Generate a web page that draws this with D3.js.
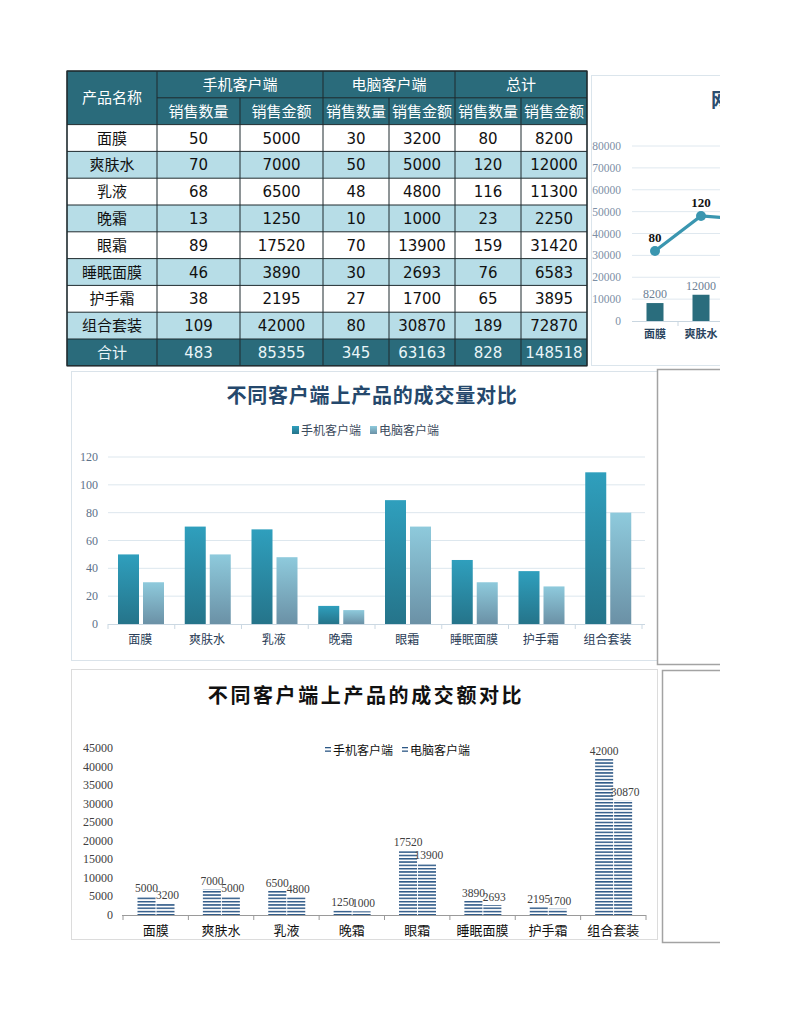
<!DOCTYPE html>
<html><head><meta charset="utf-8">
<script src="https://cdn.jsdelivr.net/npm/d3@7"></script>
<style>
html,body{margin:0;padding:0;background:#fff;}
svg{display:block;}
</style></head>
<body>
<svg id="c" width="794" height="1025"></svg>
<script>
// ---------- DATA ----------
const categories = ['面膜','爽肤水','乳液','晚霜','眼霜','睡眠面膜','护手霜','组合套装'];
const mobileQty = [50,70,68,13,89,46,38,109];
const mobileAmt = [5000,7000,6500,1250,17520,3890,2195,42000];
const pcQty = [30,50,48,10,70,30,27,80];
const pcAmt = [3200,5000,4800,1000,13900,2693,1700,30870];
const totalQty = [80,120,116,23,159,76,65,189];
const totalAmt = [8200,12000,11300,2250,31420,6583,3895,72870];
const sumRow = [483,85355,345,63163,828,148518];
const groupHeaders = ['手机客户端','电脑客户端','总计'];
const subHeaders = ['销售数量','销售金额'];
const qtyTicks = [0,20,40,60,80,100,120];
const amtTicks = [0,5000,10000,15000,20000,25000,30000,35000,40000,45000];
const totTicks = [0,10000,20000,30000,40000,50000,60000,70000,80000];
const seriesNames = ['手机客户端','电脑客户端'];

const svg = d3.select('#c');
const CJK = "'Noto Sans CJK SC','Noto Sans',sans-serif";
const NUM = "'DejaVu Sans','Noto Sans CJK SC',sans-serif";
const SERIF = "'Liberation Serif','DejaVu Serif',serif";
const CLIPX = 720;

const defs = svg.append('defs');
function grad(id, top, bot){
  const g = defs.append('linearGradient').attr('id',id).attr('x1',0).attr('y1',0).attr('x2',0).attr('y2',1);
  g.append('stop').attr('offset','0%').attr('stop-color',top);
  g.append('stop').attr('offset','100%').attr('stop-color',bot);
}
grad('gM','#2f9fbd','#25748a');
grad('gP','#8ecadc','#6b91a6');
const pat = defs.append('pattern').attr('id','hatch').attr('patternUnits','userSpaceOnUse')
  .attr('width',6).attr('height',3.3);
pat.append('rect').attr('x',0).attr('y',0).attr('width',6).attr('height',1.5).attr('fill','#2d5886');
defs.append('clipPath').attr('id','clipR').append('rect').attr('x',0).attr('y',0).attr('width',CLIPX).attr('height',1025);

// ---------- TABLE ----------
const colW = [90,83,83,66,66,66,66];
const colX = [67]; colW.forEach((w,i)=>colX.push(colX[i]+w));
const tTop = 71, rowH = 26.8;
const dark = '#2a6b7b', light = '#b7dde7';
const tbl = svg.append('g');
const rows = categories.map((c,i)=>[c, mobileQty[i], mobileAmt[i], pcQty[i], pcAmt[i], totalQty[i], totalAmt[i]]);
rows.push(['合计', ...sumRow]);
tbl.append('rect').attr('x',colX[0]).attr('y',tTop).attr('width',colX[7]-colX[0]).attr('height',rowH*2).attr('fill',dark);
rows.forEach((r,i)=>{
  const y = tTop + rowH*(i+2);
  const isSum = i===rows.length-1;
  tbl.append('rect').attr('x',colX[0]).attr('y',y).attr('width',colX[7]-colX[0]).attr('height',rowH)
    .attr('fill', isSum ? dark : (i%2===1 ? light : '#ffffff'));
  r.forEach((v,j)=>{
    tbl.append('text').attr('x',(colX[j]+colX[j+1])/2).attr('y',y+rowH/2+5.5)
      .attr('text-anchor','middle').attr('font-family', j===0?CJK:NUM).attr('font-size',15)
      .attr('fill', isSum ? '#e9f5f8' : '#111').text(v);
  });
});
tbl.append('text').attr('x',(colX[0]+colX[1])/2).attr('y',tTop+rowH+5.5).attr('text-anchor','middle')
  .attr('font-family',CJK).attr('font-size',15).attr('fill','#fff').text('产品名称');
groupHeaders.forEach((h,k)=>{
  tbl.append('text').attr('x',(colX[1+2*k]+colX[3+2*k])/2).attr('y',tTop+rowH/2+5.5).attr('text-anchor','middle')
    .attr('font-family',CJK).attr('font-size',15).attr('fill','#fff').text(h);
  subHeaders.forEach((s,m)=>{
    const j = 1+2*k+m;
    tbl.append('text').attr('x',(colX[j]+colX[j+1])/2).attr('y',tTop+rowH*1.5+5.5).attr('text-anchor','middle')
      .attr('font-family',CJK).attr('font-size',15).attr('fill','#fff').text(s);
  });
});
const lineC = '#1e2a2e';
const tBot = tTop + rowH*(rows.length+2);
for(let i=0;i<=rows.length+2;i++){
  const y = tTop + rowH*i;
  if(i===1){ tbl.append('line').attr('x1',colX[1]).attr('x2',colX[7]).attr('y1',y).attr('y2',y).attr('stroke',lineC); }
  else tbl.append('line').attr('x1',colX[0]).attr('x2',colX[7]).attr('y1',y).attr('y2',y).attr('stroke',lineC);
}
colX.forEach((x,j)=>{
  let y1 = tTop;
  if(j===2||j===4||j===6) y1 = tTop+rowH;
  tbl.append('line').attr('x1',x).attr('x2',x).attr('y1',y1).attr('y2',tBot).attr('stroke',lineC);
});
tbl.append('rect').attr('x',colX[0]).attr('y',tTop).attr('width',colX[7]-colX[0]).attr('height',tBot-tTop)
  .attr('fill','none').attr('stroke',lineC).attr('stroke-width',1.2);

// ---------- TOP RIGHT COMBO (clipped at the page's visible edge) ----------
const tr = svg.append('g').attr('clip-path','url(#clipR)');
tr.append('rect').attr('x',591.5).attr('y',75.5).attr('width',300).attr('height',290).attr('fill','#fff').attr('stroke','#dbe5ec');
tr.append('text').attr('x',711).attr('y',107).attr('font-family',CJK).attr('font-weight',700).attr('font-size',19)
  .attr('fill','#2a4c6e').text('网');
const xT = d3.scaleBand().domain(categories).range([632, 632+46*8]);
const yT = d3.scaleLinear().domain([0,80000]).range([321,146]);
const yT2 = d3.scaleLinear().domain([0,200]).range([321,146]);
totTicks.forEach(t=>{
  if(t>0) tr.append('line').attr('x1',632).attr('x2',1000).attr('y1',yT(t)).attr('y2',yT(t)).attr('stroke','#dfe8ef');
  tr.append('text').attr('x',621).attr('y',yT(t)+4).attr('text-anchor','end').attr('font-family',SERIF)
    .attr('font-size',11.5).attr('fill','#7d8fa6').text(t);
});
tr.append('line').attr('x1',632).attr('x2',1000).attr('y1',321.5).attr('y2',321.5).attr('stroke','#c9d6e0');
const visible = c => xT(c)+xT.bandwidth()/2 < CLIPX;
categories.forEach((c,i)=>{
  const bx = xT(c)+xT.bandwidth()/2;
  tr.append('line').attr('x1',xT(c)+xT.bandwidth()).attr('x2',xT(c)+xT.bandwidth()).attr('y1',321).attr('y2',326).attr('stroke','#c9d6e0');
  tr.append('rect').attr('x',bx-8.5).attr('y',yT(totalAmt[i])).attr('width',17).attr('height',yT(0)-yT(totalAmt[i])).attr('fill','#2a6d7d');
  if(visible(c)){
    tr.append('text').attr('x',bx).attr('y',yT(totalAmt[i])-5).attr('text-anchor','middle').attr('font-family',SERIF)
      .attr('font-size',12).attr('fill','#6d7f95').text(totalAmt[i]);
    tr.append('text').attr('x',bx).attr('y',338).attr('text-anchor','middle').attr('font-family',CJK)
      .attr('font-size',11).attr('font-weight',700).attr('fill','#2b4560').text(c);
  }
});
const ln = d3.line().x((d,i)=>xT(categories[i])+xT.bandwidth()/2).y(d=>yT2(d));
tr.append('path').attr('d',ln(totalQty)).attr('fill','none').attr('stroke','#3a96b0').attr('stroke-width',3.2);
totalQty.forEach((v,i)=>{
  const cx = xT(categories[i])+xT.bandwidth()/2;
  tr.append('circle').attr('cx',cx).attr('cy',yT2(v)).attr('r',5).attr('fill','#3a96b0');
  if(visible(categories[i]))
    tr.append('text').attr('x',cx).attr('y',yT2(v)-9).attr('text-anchor','middle').attr('font-family',SERIF)
      .attr('font-size',13).attr('font-weight',700).attr('fill','#111').text(v);
});

// ---------- MIDDLE CHART (quantity) ----------
const m = svg.append('g');
m.append('rect').attr('x',71.5).attr('y',371.5).attr('width',586).attr('height',289).attr('fill','#fff').attr('stroke','#dae3ea');
m.append('text').attr('x',372).attr('y',403).attr('text-anchor','middle').attr('font-family',CJK).attr('font-weight',700)
  .attr('font-size',20).attr('letter-spacing',0.8).attr('fill','#25486c').text('不同客户端上产品的成交量对比');
const legM = [{n:seriesNames[0],f:'url(#gM)',x:292},{n:seriesNames[1],f:'url(#gP)',x:370}];
legM.forEach(l=>{
  m.append('rect').attr('x',l.x).attr('y',426).attr('width',7).attr('height',8).attr('fill',l.f);
  m.append('text').attr('x',l.x+9).attr('y',435).attr('font-family',CJK).attr('font-size',12).attr('fill','#3b4a5c').text(l.n);
});
const xM = d3.scaleBand().domain(categories).range([108,642]);
const xM1 = d3.scaleBand().domain([0,1]).range([10,56]).paddingInner(0.16);
const yM = d3.scaleLinear().domain([0,120]).range([624,457]);
qtyTicks.forEach(t=>{
  if(t>0) m.append('line').attr('x1',108).attr('x2',645).attr('y1',yM(t)).attr('y2',yM(t)).attr('stroke','#dde7ee');
  m.append('text').attr('x',98).attr('y',yM(t)+4).attr('text-anchor','end').attr('font-family',SERIF)
    .attr('font-size',12).attr('fill','#5d7189').text(t);
});
m.append('line').attr('x1',108).attr('x2',645).attr('y1',624.5).attr('y2',624.5).attr('stroke','#cbd8e2');
[...categories.map(c=>xM(c)), 642].forEach(x=>{
  m.append('line').attr('x1',x).attr('x2',x).attr('y1',624).attr('y2',629).attr('stroke','#cbd8e2');
});
categories.forEach((c,i)=>{
  [mobileQty[i], pcQty[i]].forEach((v,k)=>{
    m.append('rect').attr('x',xM(c)+xM1(k)).attr('y',yM(v)).attr('width',xM1.bandwidth()).attr('height',yM(0)-yM(v))
      .attr('fill', k===0?'url(#gM)':'url(#gP)');
  });
  m.append('text').attr('x',xM(c)+xM.bandwidth()/2-1).attr('y',644).attr('text-anchor','middle').attr('font-family',CJK)
    .attr('font-size',12).attr('fill','#2a3d57').text(c);
});

// ---------- BOTTOM CHART (amount) ----------
const b = svg.append('g');
b.append('rect').attr('x',71.5).attr('y',669.5).attr('width',586).attr('height',270).attr('fill','#fff').attr('stroke','#dcdcdc');
b.append('text').attr('x',366).attr('y',703).attr('text-anchor','middle').attr('font-family',CJK).attr('font-weight',700)
  .attr('font-size',20).attr('letter-spacing',2.6).attr('fill','#111').text('不同客户端上产品的成交额对比');
const legB = [{n:seriesNames[0],x:325},{n:seriesNames[1],x:402}];
legB.forEach(l=>{
  b.append('rect').attr('x',l.x).attr('y',747).attr('width',6).attr('height',1.3).attr('fill','#2d5886');
  b.append('rect').attr('x',l.x).attr('y',750.5).attr('width',6).attr('height',1.3).attr('fill','#2d5886');
  b.append('text').attr('x',l.x+8).attr('y',755).attr('font-family',CJK).attr('font-size',12).attr('fill','#111').text(l.n);
});
const xB = d3.scaleBand().domain(categories).range([123,646]);
const xB1 = d3.scaleBand().domain([0,1]).range([14.5,51.5]).paddingInner(0.05);
const yB = d3.scaleLinear().domain([0,45000]).range([915,748]);
amtTicks.forEach(t=>{
  b.append('text').attr('x',113).attr('y',yB(t)+4).attr('text-anchor','end').attr('font-family',SERIF)
    .attr('font-size',12).attr('fill','#404040').text(t);
});
categories.forEach((c,i)=>{
  [mobileAmt[i], pcAmt[i]].forEach((v,k)=>{
    const x = xB(c)+xB1(k);
    b.append('rect').attr('x',x).attr('y',yB(v)).attr('width',xB1.bandwidth()).attr('height',yB(0)-yB(v)).attr('fill','url(#hatch)');
    b.append('text').attr('x',x+xB1.bandwidth()/2 + (k===1?2:0)).attr('y',yB(v)-4).attr('text-anchor','middle').attr('font-family',SERIF)
      .attr('font-size',11.5).attr('fill','#404040').text(v);
  });
  b.append('text').attr('x',xB(c)+xB.bandwidth()/2).attr('y',935).attr('text-anchor','middle').attr('font-family',CJK)
    .attr('font-size',13).attr('fill','#111').text(c);
});
b.append('line').attr('x1',122).attr('x2',646).attr('y1',915.5).attr('y2',915.5).attr('stroke','#9a9a9a');
[...categories.map(c=>xB(c)), 646].forEach(x=>{
  b.append('line').attr('x1',x).attr('x2',x).attr('y1',915).attr('y2',920).attr('stroke','#9a9a9a');
});

// ---------- RIGHT FRAMES (clipped) ----------
const rf = svg.append('g').attr('clip-path','url(#clipR)');
rf.append('path').attr('d','M730,369.5 H657.5 V664.5 H730').attr('fill','none').attr('stroke','#a3a3a3').attr('stroke-width',1.5);
rf.append('path').attr('d','M730,670.5 H662.5 V942.5 H730').attr('fill','none').attr('stroke','#a3a3a3').attr('stroke-width',1.5);
</script>
</body></html>
